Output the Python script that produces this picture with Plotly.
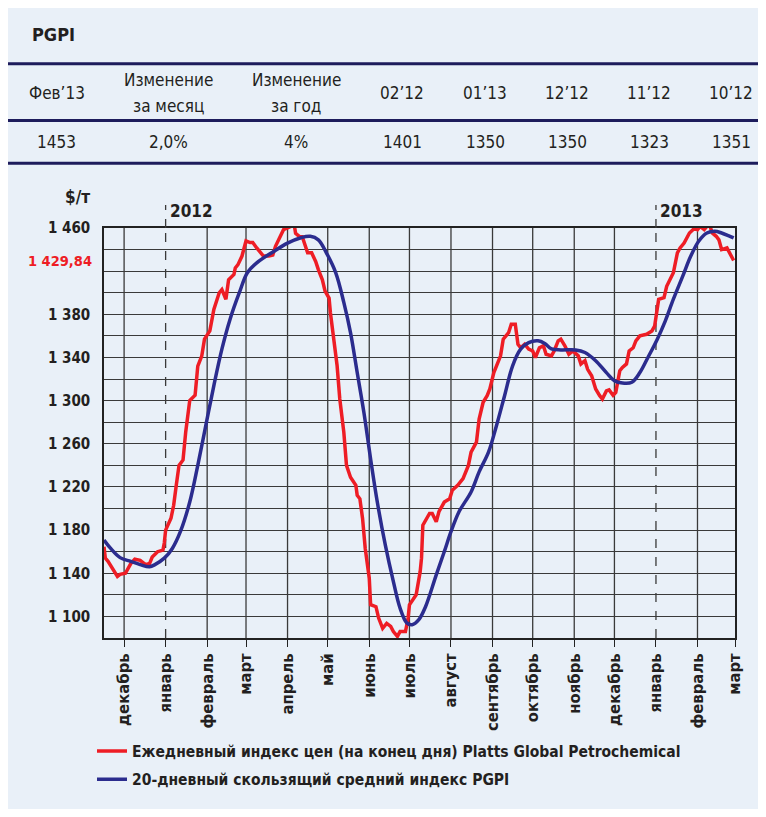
import plotly.graph_objects as go

# ---------------- data ----------------
header_labels = ["Фев’13", "Изменение<br>за месяц", "Изменение<br>за год", "02’12", "01’13", "12’12", "11’12", "10’12"]
header_values = ["1453", "2,0%", "4%", "1401", "1350", "1350", "1323", "1351"]

red_dates = [
    "2011-11-16", "2011-11-17", "2011-11-19", "2011-11-22", "2011-11-26", "2011-11-28", "2011-12-02", "2011-12-06",
    "2011-12-09", "2011-12-13", "2011-12-17", "2011-12-20", "2011-12-22", "2011-12-26", "2011-12-30", "2011-12-31",
    "2012-01-01", "2012-01-05", "2012-01-07", "2012-01-09", "2012-01-11", "2012-01-14", "2012-01-16", "2012-01-19",
    "2012-01-23", "2012-01-25", "2012-01-28", "2012-01-30", "2012-02-03", "2012-02-06", "2012-02-10", "2012-02-12",
    "2012-02-15", "2012-02-17", "2012-02-21", "2012-02-22", "2012-02-24", "2012-02-27", "2012-02-28", "2012-03-01",
    "2012-03-04", "2012-03-06", "2012-03-09", "2012-03-11", "2012-03-14", "2012-03-18", "2012-03-21", "2012-03-23",
    "2012-03-27", "2012-03-29", "2012-04-01", "2012-04-03", "2012-04-06", "2012-04-07", "2012-04-10", "2012-04-12",
    "2012-04-14", "2012-04-16", "2012-04-19", "2012-04-22", "2012-04-24", "2012-04-27", "2012-04-29", "2012-05-02",
    "2012-05-03", "2012-05-05", "2012-05-08", "2012-05-10", "2012-05-13", "2012-05-15", "2012-05-18", "2012-05-22",
    "2012-05-23", "2012-05-25", "2012-05-27", "2012-05-29", "2012-06-01", "2012-06-02", "2012-06-06", "2012-06-08",
    "2012-06-11", "2012-06-14", "2012-06-17", "2012-06-19", "2012-06-22", "2012-06-24", "2012-06-28", "2012-06-29",
    "2012-06-30", "2012-07-01", "2012-07-04", "2012-07-06", "2012-07-09", "2012-07-10", "2012-07-11", "2012-07-14",
    "2012-07-16", "2012-07-18", "2012-07-21", "2012-07-23", "2012-07-27", "2012-07-31", "2012-08-02", "2012-08-06",
    "2012-08-10", "2012-08-14", "2012-08-16", "2012-08-20", "2012-08-22", "2012-08-25", "2012-08-28", "2012-08-30",
    "2012-09-02", "2012-09-04", "2012-09-07", "2012-09-09", "2012-09-11", "2012-09-13", "2012-09-15", "2012-09-18",
    "2012-09-20", "2012-09-22", "2012-09-25", "2012-09-28", "2012-10-01", "2012-10-03", "2012-10-06", "2012-10-09",
    "2012-10-11", "2012-10-15", "2012-10-17", "2012-10-20", "2012-10-22", "2012-10-25", "2012-10-28", "2012-10-31",
    "2012-11-04", "2012-11-06", "2012-11-09", "2012-11-11", "2012-11-14", "2012-11-17", "2012-11-20", "2012-11-22",
    "2012-11-25", "2012-11-27", "2012-11-30", "2012-12-02", "2012-12-05", "2012-12-07", "2012-12-10", "2012-12-12",
    "2012-12-15", "2012-12-17", "2012-12-20", "2012-12-22", "2012-12-25", "2012-12-29", "2012-12-31", "2013-01-03",
    "2013-01-07", "2013-01-09", "2013-01-12", "2013-01-14", "2013-01-17", "2013-01-19", "2013-01-22", "2013-01-26",
    "2013-01-30", "2013-02-01", "2013-02-03", "2013-02-06", "2013-02-08", "2013-02-10", "2013-02-12", "2013-02-15",
    "2013-02-17", "2013-02-19", "2013-02-23", "2013-02-25", "2013-02-28",
]
red_values = [
    1164.6, 1154, 1151, 1145, 1137, 1139, 1140, 1149,
    1153, 1152, 1148, 1149, 1155, 1160, 1161.5, 1168,
    1180, 1191, 1203, 1222, 1240, 1245, 1271, 1300,
    1305, 1332, 1341.5, 1357, 1364.6, 1384.6, 1400, 1403,
    1394, 1412, 1417, 1423, 1426, 1434, 1440, 1448,
    1446.5, 1446.5, 1441.5, 1438.5, 1434, 1434, 1435, 1443,
    1454, 1458.5, 1460, 1461.5, 1463, 1455, 1452, 1452,
    1444.6, 1437, 1437, 1429, 1421.5, 1412, 1401.5, 1395,
    1381.5, 1360, 1332.3, 1301.5, 1270.8, 1240, 1229, 1221.5,
    1212.3, 1209, 1190.8, 1163, 1135.4, 1110.8, 1109, 1098.5,
    1089, 1093.5, 1090.8, 1086, 1081.5, 1086, 1086, 1092,
    1098.5, 1110.8, 1117, 1120, 1141.5, 1154, 1184.6, 1190.8,
    1195.4, 1195.4, 1187.7, 1197, 1206, 1209, 1217, 1221.5,
    1227.7, 1240, 1252.3, 1261.5, 1283, 1298.5, 1304.6, 1310.8,
    1326, 1332.3, 1341.5, 1357, 1360, 1363, 1370.8, 1370.8,
    1352.3, 1349, 1352.3, 1347.7, 1346, 1340, 1349, 1350.8,
    1343, 1341.5, 1346, 1355.4, 1357, 1350.8, 1343, 1346,
    1341.5, 1334, 1337, 1329, 1323, 1310.8, 1304.6, 1301.5,
    1309, 1310, 1305, 1307.7, 1327.7, 1330.8, 1334, 1346,
    1349, 1355.4, 1360, 1360.6, 1361.5, 1364.6, 1369, 1393.8,
    1395.4, 1406, 1413.8, 1418.5, 1437, 1441.5, 1446, 1455.4,
    1460, 1458.5, 1461.5, 1458.5, 1461.5, 1463, 1455.4, 1452.3,
    1449, 1440, 1441.5, 1437, 1429.84,
]

blue_dates = [
    "2011-11-16", "2011-11-21", "2011-11-28", "2011-12-06", "2011-12-13", "2011-12-20", "2011-12-24", "2011-12-31",
    "2012-01-06", "2012-01-12", "2012-01-19", "2012-01-25", "2012-01-31", "2012-02-06", "2012-02-12", "2012-02-18",
    "2012-02-25", "2012-03-02", "2012-03-09", "2012-03-22", "2012-04-01", "2012-04-11", "2012-04-18", "2012-04-24",
    "2012-04-30", "2012-05-07", "2012-05-13", "2012-05-18", "2012-05-23", "2012-05-28", "2012-06-02", "2012-06-07",
    "2012-06-13", "2012-06-19", "2012-06-24", "2012-06-29", "2012-07-03", "2012-07-08", "2012-07-13", "2012-07-21",
    "2012-07-27", "2012-08-01", "2012-08-07", "2012-08-16", "2012-08-22", "2012-08-29", "2012-09-04", "2012-09-10",
    "2012-09-16", "2012-09-22", "2012-09-28", "2012-10-05", "2012-10-10", "2012-10-15", "2012-10-22", "2012-11-02",
    "2012-11-09", "2012-11-17", "2012-11-25", "2012-12-01", "2012-12-07", "2012-12-14", "2012-12-20", "2012-12-26",
    "2013-01-02", "2013-01-08", "2013-01-14", "2013-01-21", "2013-01-27", "2013-02-02", "2013-02-08", "2013-02-14",
    "2013-02-19", "2013-02-24", "2013-02-28",
]
blue_values = [
    1170.8, 1163, 1154.5, 1151, 1148, 1146, 1148, 1154,
    1163, 1178.5, 1206, 1240, 1277, 1314, 1347.7, 1375,
    1400, 1418.5, 1427.7, 1438.5, 1446, 1451, 1452.3, 1449,
    1437, 1418.5, 1391, 1363, 1326, 1289, 1246, 1206,
    1166, 1132.3, 1107.7, 1094, 1092.3, 1097, 1109, 1138.5,
    1160, 1178.5, 1197, 1215.4, 1234, 1252.3, 1277, 1304.6,
    1332.3, 1347.7, 1353.8, 1355.4, 1353, 1348, 1347, 1347,
    1344.6, 1337, 1326, 1318.5, 1316.3, 1317, 1326, 1340,
    1357, 1374, 1394, 1415.4, 1434, 1448, 1455.4, 1457,
    1455.4, 1453, 1450.8,
]

month_ticks = ["2011-12-01", "2012-01-01", "2012-02-01", "2012-03-01", "2012-04-01", "2012-05-01", "2012-06-01",
               "2012-07-01", "2012-08-01", "2012-09-01", "2012-10-01", "2012-11-01", "2012-12-01", "2013-01-01",
               "2013-02-01", "2013-03-01"]
month_labels = ["декабрь", "январь", "февраль", "март", "апрель", "май", "июнь", "июль", "август", "сентябрь",
                "октябрь", "ноябрь", "декабрь", "январь", "февраль", "март"]
year_starts = ["2012-01-01", "2013-01-01"]
year_labels = ["2012", "2013"]

y_label_values = [1460, 1380, 1340, 1300, 1260, 1220, 1180, 1140, 1100]
y_label_texts = ["1 460", "1 380", "1 340", "1 300", "1 260", "1 220", "1 180", "1 140", "1 100"]
last_value_text = "1 429,84"
last_value = 1429.84

series_names = ["Ежедневный индекс цен (на конец дня) Platts Global Petrochemical",
                "20-дневный скользящий средний индекс PGPI"]

# ---------------- style ----------------
BG = "#e9f0f8"
RED = "#ee1d25"
BLUE = "#2b2c8e"
NAVY = "#1d1c5c"
INK = "#231f20"
COND = "Liberation Sans Narrow, DejaVu Sans Condensed, Arial Narrow, Roboto, sans-serif"

OFF = 8                      # page body margin
FW, FH = 758, 801            # figure size
# plot area in page pixels
L, R, T, B = 104, 735, 228, 640
W, H = R - L, B - T


def px(xp):
    return (xp - L) / W


def py(yp):
    return (B - yp) / H


fig = go.Figure()
fig.add_trace(go.Scatter(x=red_dates, y=red_values, mode="lines", name=series_names[0], legendgroup="a",
                         line=dict(color=RED, width=3.5)))
fig.add_trace(go.Scatter(x=blue_dates, y=blue_values, mode="lines", name=series_names[1], legendgroup="b",
                         line=dict(color=BLUE, width=3.5, shape="spline", smoothing=1.0)))

grid_vals = list(range(1080, 1461, 20))
label_map = dict(zip(y_label_values, y_label_texts))
grid_text = [label_map.get(v, "") for v in grid_vals]

shapes = []
for d in month_ticks[:-1]:
    shapes.append(dict(type="line", xref="x", yref="paper", x0=d, x1=d, y0=0, y1=1, layer="below",
                       line=dict(color="#3a3a3a", width=1.3, dash="dash" if d in year_starts else "solid")))
for d in year_starts:
    shapes.append(dict(type="line", xref="x", yref="paper", x0=d, x1=d, y0=1, y1=py(205),
                       line=dict(color="#3a3a3a", width=1.3, dash="dash")))
for yy in (63, 120, 163):
    shapes.append(dict(type="line", xref="paper", yref="paper", x0=px(0), x1=px(780), y0=py(yy), y1=py(yy),
                       line=dict(color=NAVY, width=3)))

annotations = []
annotations.append(dict(text="PGPI", xref="paper", yref="paper", x=px(30), y=py(34), xanchor="left",
                        yanchor="middle", showarrow=False,
                        font=dict(family=COND, size=18, color=INK, weight="bold")))
col_x = [57, 168, 296, 402, 485, 567, 649, 731]
for cx, lab, val in zip(col_x, header_labels, header_values):
    parts = lab.split("<br>")
    if len(parts) == 2:
        for yy, t in zip((79, 105), parts):
            annotations.append(dict(text=t, xref="paper", yref="paper", x=px(cx), y=py(yy), xanchor="center",
                                    yanchor="middle", showarrow=False, font=dict(family=COND, size=17, color=INK)))
    else:
        annotations.append(dict(text=lab, xref="paper", yref="paper", x=px(cx), y=py(92), xanchor="center",
                                yanchor="middle", showarrow=False, font=dict(family=COND, size=17, color=INK)))
    annotations.append(dict(text=val, xref="paper", yref="paper", x=px(cx), y=py(142), xanchor="center",
                            yanchor="middle", showarrow=False, font=dict(family=COND, size=17, color=INK)))

annotations.append(dict(text="$/т", xref="paper", yref="paper", x=px(92), y=py(197), xanchor="right",
                        yanchor="middle", showarrow=False,
                        font=dict(family=COND, size=17, color=INK, weight="bold")))
for d, t in zip(year_starts, year_labels):
    annotations.append(dict(text=t, xref="x", yref="paper", x=d, y=py(211), xanchor="left", xshift=2,
                            yanchor="middle", showarrow=False,
                            font=dict(family=COND, size=17, color=INK, weight="bold")))
annotations.append(dict(text=last_value_text, xref="paper", yref="y", x=0, y=last_value, xanchor="right",
                        xshift=-10, yanchor="middle", showarrow=False,
                        font=dict(family=COND, size=14.5, color=RED, weight="bold")))

fig.update_layout(
    width=FW, height=FH,
    margin=dict(l=L - OFF, r=FW - (R - OFF), t=T - OFF, b=FH - (B - OFF), pad=0),
    paper_bgcolor=BG, plot_bgcolor=BG,
    shapes=shapes, annotations=annotations,
    showlegend=True,
    legend=dict(x=px(92), y=py(737), xanchor="left", yanchor="top", bgcolor="rgba(0,0,0,0)",
                font=dict(family=COND, size=15.5, color=INK, weight="bold"), tracegroupgap=5),
    xaxis=dict(type="date", range=["2011-11-16", "2013-03-01"], tickmode="array", tickvals=month_ticks,
               ticktext=month_labels, tickangle=-90, showgrid=False, zeroline=False,
               ticks="outside", ticklen=7, tickwidth=1.3, tickcolor="#222",
               showline=True, linecolor="#222", linewidth=1.5, mirror=True,
               tickfont=dict(family=COND, size=16.5, color=INK, weight="bold")),
    yaxis=dict(range=[1080, 1460], tickmode="array", tickvals=grid_vals, ticktext=grid_text,
               showgrid=True, gridcolor="#3a3a3a", gridwidth=1.2, zeroline=False, ticks="",
               showline=True, linecolor="#222", linewidth=1.5, mirror=True, ticklabelstandoff=9,
               tickfont=dict(family=COND, size=15, color=INK, weight="bold")),
)

fig.write_html("out.html")
